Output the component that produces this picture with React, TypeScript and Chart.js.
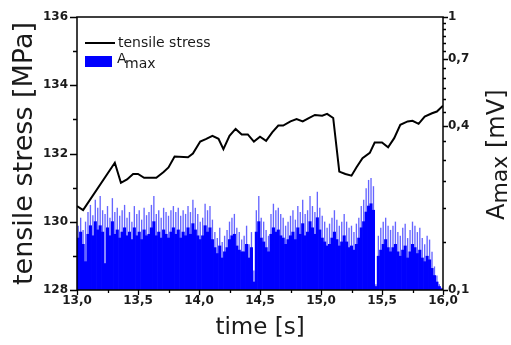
import React, { useEffect, useRef } from 'react';
import { Chart, registerables } from 'chart.js';

Chart.register(...registerables);

// tensile stress line (time [s] -> MPa)
const stressTimes = [
  13.0, 13.05, 13.31, 13.36, 13.41, 13.46, 13.5, 13.55, 13.65, 13.71, 13.75, 13.8, 13.91, 13.95,
  14.01, 14.06, 14.11, 14.16, 14.2, 14.25, 14.3, 14.35, 14.4, 14.45, 14.5, 14.55, 14.6, 14.65,
  14.69, 14.75, 14.8, 14.85, 14.9, 14.95, 15.01, 15.05, 15.1, 15.15, 15.2, 15.25, 15.29, 15.34,
  15.4, 15.44, 15.5, 15.55, 15.6, 15.65, 15.71, 15.75, 15.8, 15.85, 15.91, 15.95, 16.0,
];
const stressValues = [
  130.46, 130.34, 131.73, 131.14, 131.24, 131.4, 131.4, 131.29, 131.29, 131.46, 131.59, 131.91, 131.89, 132.0,
  132.35, 132.43, 132.52, 132.43, 132.13, 132.52, 132.72, 132.56, 132.56, 132.35, 132.49, 132.37, 132.62, 132.82,
  132.82, 132.94, 133.01, 132.94, 133.04, 133.13, 133.11, 133.16, 133.04, 131.47, 131.4, 131.35, 131.59, 131.86,
  132.02, 132.32, 132.32, 132.18, 132.45, 132.84, 132.94, 132.96, 132.87, 133.08, 133.18, 133.23, 133.4,
];

// A_max [mV], 150 samples from 13.0 s to 16.0 s: spike tops and solid body
const amaxPeak = [
  0.172, 0.184, 0.166, 0.178, 0.193, 0.205, 0.188, 0.214, 0.2, 0.221,
  0.196, 0.19, 0.203, 0.184, 0.217, 0.193, 0.2, 0.187, 0.196, 0.205,
  0.184, 0.193, 0.178, 0.203, 0.19, 0.196, 0.181, 0.2, 0.188, 0.193,
  0.205, 0.221, 0.19, 0.196, 0.184, 0.2, 0.193, 0.187, 0.196, 0.203,
  0.193, 0.2, 0.187, 0.196, 0.19, 0.203, 0.193, 0.214, 0.2, 0.19,
  0.178, 0.184, 0.207, 0.196, 0.203, 0.181, 0.163, 0.155, 0.169, 0.15,
  0.158, 0.166, 0.178, 0.184, 0.19, 0.169, 0.163, 0.153, 0.158, 0.172,
  0.147, 0.163, 0.118, 0.196, 0.221, 0.184, 0.178, 0.166, 0.158, 0.19,
  0.207, 0.196, 0.2, 0.19, 0.184, 0.172, 0.178, 0.187, 0.196, 0.181,
  0.203, 0.193, 0.214, 0.19, 0.196, 0.221, 0.203, 0.193, 0.229, 0.2,
  0.187, 0.178, 0.169, 0.175, 0.184, 0.196, 0.181, 0.172, 0.178, 0.19,
  0.178, 0.169, 0.172, 0.163, 0.175, 0.184, 0.203, 0.214, 0.236, 0.253,
  0.257, 0.24, 0.105, 0.158, 0.169, 0.178, 0.184, 0.172, 0.166, 0.172,
  0.178, 0.163, 0.158, 0.169, 0.175, 0.155, 0.166, 0.178, 0.172, 0.163,
  0.169, 0.155, 0.147, 0.158, 0.153, 0.138, 0.122, 0.113, 0.105, 0.102,
];
const amaxBody = [
  0.155, 0.163, 0.147, 0.127, 0.16, 0.172, 0.158, 0.178, 0.166, 0.172,
  0.163, 0.125, 0.169, 0.158, 0.178, 0.16, 0.166, 0.155, 0.163, 0.169,
  0.158, 0.163, 0.153, 0.169, 0.158, 0.163, 0.153, 0.166, 0.158, 0.16,
  0.169, 0.178, 0.158, 0.163, 0.155, 0.166, 0.16, 0.155, 0.163, 0.169,
  0.16, 0.166, 0.155, 0.163, 0.158, 0.169, 0.16, 0.175, 0.166, 0.158,
  0.153, 0.158, 0.172, 0.163, 0.169, 0.153, 0.143, 0.136, 0.145, 0.131,
  0.138, 0.143, 0.153, 0.158, 0.16, 0.145, 0.14, 0.138, 0.138, 0.147,
  0.131, 0.143, 0.107, 0.163, 0.178, 0.155, 0.15, 0.143, 0.138, 0.16,
  0.169, 0.163, 0.166, 0.158, 0.155, 0.147, 0.153, 0.158, 0.163, 0.153,
  0.169, 0.16, 0.175, 0.158, 0.163, 0.178, 0.169, 0.16, 0.184, 0.166,
  0.155, 0.15, 0.145, 0.147, 0.155, 0.163, 0.153, 0.145, 0.15, 0.158,
  0.15, 0.143, 0.145, 0.14, 0.147, 0.155, 0.169, 0.178, 0.193, 0.203,
  0.207, 0.196, 0.103, 0.133, 0.14, 0.147, 0.153, 0.143, 0.138, 0.143,
  0.147, 0.138, 0.133, 0.14, 0.145, 0.131, 0.138, 0.147, 0.143, 0.136,
  0.14, 0.131, 0.127, 0.133, 0.129, 0.12, 0.113, 0.107, 0.103, 0.101,
];

const rightTickValues = [
  0.1, 0.15, 0.2, 0.25, 0.3, 0.35, 0.4, 0.45, 0.5, 0.55, 0.6, 0.65, 0.7, 0.75, 0.8, 0.85, 0.9, 0.95, 1,
];
const rightLabeled = [0.1, 0.4, 0.7, 1];

const FONT = 'DejaVu Sans';
const TEXT = '#1a1a1a';

const fmt = (v: number) => (v === 1 ? '1' : v.toFixed(1).replace('.', ','));
const near = (a: number, b: number) => Math.abs(a - b) < 1e-6;

const decorPlugin = {
  id: 'decor',
  afterDraw(chart: any) {
    const ctx = chart.ctx as CanvasRenderingContext2D;
    const a = chart.chartArea;
    const sx = chart.scales.x;
    const sy = chart.scales.y;
    const sy2 = chart.scales.y2;
    ctx.save();
    ctx.strokeStyle = '#000';
    ctx.lineWidth = 1.3;
    ctx.beginPath();
    sy.ticks.forEach((t: any) => {
      const py = Math.round(sy.getPixelForValue(t.value)) + 0.5;
      const len = near(t.value % 2, 0) ? 7 : 4;
      ctx.moveTo(a.left - len, py);
      ctx.lineTo(a.left, py);
    });
    sx.ticks.forEach((t: any) => {
      const px = Math.round(sx.getPixelForValue(t.value)) + 0.5;
      const major = near((t.value * 2) % 1, 0);
      const len = major ? 5 : 3;
      ctx.moveTo(px, a.bottom);
      ctx.lineTo(px, a.bottom + len);
    });
    sy2.ticks.forEach((t: any) => {
      const py = Math.round(sy2.getPixelForValue(t.value)) + 0.5;
      const major = rightLabeled.some((v) => near(v, t.value));
      const len = major ? 5 : 3;
      ctx.moveTo(a.right, py);
      ctx.lineTo(a.right + len, py);
    });
    ctx.stroke();
    // frame
    ctx.lineWidth = 1.5;
    ctx.strokeRect(a.left, a.top, a.right - a.left, a.bottom - a.top);

    // legend
    ctx.fillStyle = TEXT;
    ctx.strokeStyle = '#000';
    ctx.lineWidth = 2;
    ctx.beginPath();
    ctx.moveTo(85, 43);
    ctx.lineTo(115, 43);
    ctx.stroke();
    ctx.font = `14px "${FONT}"`;
    ctx.textBaseline = 'alphabetic';
    ctx.textAlign = 'left';
    ctx.fillText('tensile stress', 118, 47);
    ctx.fillStyle = '#0000ff';
    ctx.fillRect(85, 56, 27, 11);
    ctx.fillStyle = TEXT;
    ctx.fillText('A', 117, 63);
    ctx.fillText('max', 125, 68);

    // axis titles
    ctx.save();
    ctx.translate(32, (a.top + a.bottom) / 2);
    ctx.rotate(-Math.PI / 2);
    ctx.font = `27px "${FONT}"`;
    ctx.textAlign = 'center';
    ctx.fillText('tensile stress [MPa]', 0, 0);
    ctx.restore();

    ctx.font = `23px "${FONT}"`;
    ctx.textAlign = 'center';
    ctx.fillText('time [s]', (a.left + a.right) / 2 + 0, 334);

    ctx.save();
    ctx.translate(504, 220);
    ctx.rotate(-Math.PI / 2);
    ctx.textAlign = 'left';
    ctx.font = `24px "${FONT}"`;
    ctx.fillText('A', 0, 0);
    let w = ctx.measureText('A').width;
    ctx.font = `22px "${FONT}"`;
    ctx.fillText('max', w, 3);
    w += ctx.measureText('max').width;
    ctx.font = `24px "${FONT}"`;
    ctx.fillText(' [mV]', w, 0);
    ctx.restore();

    ctx.restore();
  },
};

export default function App() {
  const ref = useRef<HTMLCanvasElement | null>(null);
  useEffect(() => {
    if (!ref.current) return;
    const sampleLabels = amaxPeak.map((_, i) => String(i));
    const chart = new Chart(ref.current, {
      type: 'bar',
      data: {
        labels: sampleLabels,
        datasets: [
          {
            type: 'line',
            label: 'tensile stress',
            data: stressTimes.map((t, i) => ({ x: t, y: stressValues[i] })),
            xAxisID: 'x',
            yAxisID: 'y',
            borderColor: '#000',
            borderWidth: 2,
            pointRadius: 0,
            tension: 0,
            fill: false,
            order: 0,
          } as any,
          {
            type: 'bar',
            label: 'Amax body',
            data: amaxBody,
            xAxisID: 'xc',
            yAxisID: 'y2',
            backgroundColor: '#0000ff',
            barPercentage: 1,
            categoryPercentage: 1,
            grouped: false,
            order: 1,
          } as any,
          {
            type: 'bar',
            label: 'Amax',
            data: amaxPeak,
            xAxisID: 'xc',
            yAxisID: 'y2',
            backgroundColor: 'rgba(50,50,255,0.75)',
            barPercentage: 0.55,
            categoryPercentage: 1,
            grouped: false,
            order: 2,
          } as any,
        ],
      },
      options: {
        responsive: false,
        animation: false,
        devicePixelRatio: 1,
        layout: { padding: { top: 17, left: 0, right: 0, bottom: 0 } },
        plugins: { legend: { display: false }, tooltip: { enabled: false } },
        scales: {
          x: {
            type: 'linear',
            position: 'bottom',
            min: 13,
            max: 16,
            offset: false,
            grid: { display: false, drawTicks: false, offset: false },
            border: { display: false },
            ticks: {
              stepSize: 0.25,
              autoSkip: false,
              maxRotation: 0,
              padding: 4,
              color: TEXT,
              font: { family: FONT, size: 12, weight: 'bold' },
              callback: (v: any) => (near((Number(v) * 2) % 1, 0) ? fmt(Number(v)) : ''),
            },
            afterFit: (s: any) => {
              s.height = 55;
            },
          },
          xc: {
            type: 'category',
            display: false,
            offset: true,
            grid: { display: false },
          },
          y: {
            type: 'linear',
            position: 'left',
            min: 128,
            max: 136,
            grid: { display: false, drawTicks: false },
            border: { display: false },
            ticks: {
              stepSize: 1,
              autoSkip: false,
              padding: 9,
              color: TEXT,
              font: { family: FONT, size: 12, weight: 'bold' },
              callback: (v: any) => (near(Number(v) % 2, 0) ? String(v) : ''),
            },
            afterFit: (s: any) => {
              s.width = 77;
            },
          },
          y2: {
            type: 'logarithmic',
            position: 'right',
            min: 0.1,
            max: 1,
            grid: { display: false, drawTicks: false },
            border: { display: false },
            afterBuildTicks: (s: any) => {
              s.ticks = rightTickValues.map((v) => ({ value: v }));
            },
            ticks: {
              autoSkip: false,
              padding: 5,
              color: TEXT,
              font: { family: FONT, size: 12, weight: 'bold' },
              callback: (v: any) => {
                const n = Number(v);
                return rightLabeled.some((r) => near(r, n)) ? fmt(n) : '';
              },
            },
            afterFit: (s: any) => {
              s.width = 68;
            },
          },
        },
      },
      plugins: [decorPlugin],
    });
    return () => chart.destroy();
  }, []);
  return (
    <div style={{ position: 'fixed', left: 0, top: 0, width: 511, height: 345, background: '#fff' }}>
      <canvas ref={ref} width={511} height={345} style={{ display: 'block' }} />
    </div>
  );
}
